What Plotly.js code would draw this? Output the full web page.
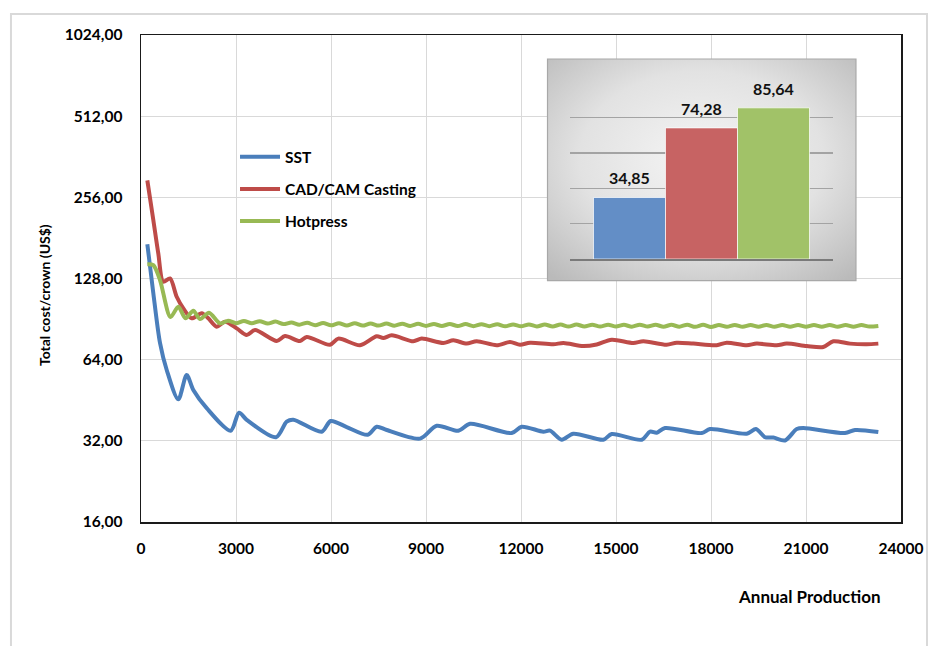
<!DOCTYPE html>
<html>
<head>
<meta charset="utf-8">
<script src="https://cdn.plot.ly/plotly-3.0.1.min.js"></script>
<style>
html,body{margin:0;padding:0;background:#fff;}
#chart{width:930px;height:646px;}
</style>
</head>
<body>
<div id="chart"></div>
<script>
// ---------- DATA ----------
const seriesNames = ['SST', 'CAD/CAM Casting', 'Hotpress'];

const sstX = [200,390,600,812,1178,1443,1652,2075,2833,3095,3338,4263,4601,4810,5707,5991,6496,7159,7443,7759,8811,9338,10020,10390,11706,12022,12705,12916,13285,13652,14600,14865,15812,16074,16286,16548,17707,17969,19128,19422,19706,19968,20337,20707,20915,22232,22548,23284];
const sstY = [171.6,112.7,73.8,58.6,45.6,56.2,49.4,42.3,34.9,40.7,38.3,33.0,37.7,38.3,34.6,37.9,36.0,33.7,36.1,35.1,32.6,36.4,34.9,37.0,34.2,36.1,34.6,34.9,32.3,34.0,32.3,33.9,32.3,34.6,34.3,35.7,34.2,35.4,34.0,35.4,33.0,32.9,32.1,35.4,35.7,34.2,35.1,34.5];

const cadX = [200,390,546,704,916,1127,1336,1601,1917,2125,2391,2653,3022,3338,3600,4285,4548,5021,5233,5969,6231,6916,7443,7652,7917,8599,8865,9547,9864,10285,10601,11232,11653,11969,12285,13022,13338,13969,14391,14865,15547,15863,16600,16917,17442,18179,18496,19128,19444,20075,20390,21022,21547,21864,22390,22917,23284];
const cadY = [296,210.6,158.6,124.4,128.1,109.5,99.2,91.1,95.1,91.1,84.8,88.5,83.6,79.0,82.4,75.1,78.3,75.0,77.7,72.7,76.6,72.4,78.1,77.0,78.8,74.9,76.6,73.8,75.5,73.4,74.9,72.4,74.4,72.7,74.0,73.0,73.8,71.9,72.9,75.9,73.8,74.9,72.7,74.0,73.4,72.4,74.0,72.4,73.4,72.4,73.4,71.9,71.3,74.9,73.4,73.0,73.4];

const hotX = [200,390,600,932,1178,1405,1652,1863,2147,2500,2750,3000,3250,3500,3750,4000,4250,4500,4750,5000,5250,
  5500,5750,6000,6250,6500,6750,7000,7250,7500,7750,8000,8250,8500,8750,9000,9250,9500,9750,10000,10250,10500,10750,
  11000,11250,11500,11750,12000,12250,12500,12750,13000,13250,13500,13750,14000,14250,14500,14750,15000,15250,15500,15750,
  16000,16250,16500,16750,17000,17250,17500,17750,18000,18250,18500,18750,19000,19250,19500,19750,20000,20250,20500,20750,
  21000,21250,21500,21750,22000,22250,22500,22750,23000,23284];
const hotY = [144.7,143.5,126.3,92.1,100.6,91.1,97.2,90.5,95.5,87.2,89.3,87.4,89.1,87.3,88.9,87.1,88.6,86.7,87.9,86.3,87.7,
  85.9,87.5,85.8,87.4,85.7,87.3,85.6,87.2,85.6,87.1,85.5,87.0,85.4,86.9,85.4,86.8,85.3,86.8,85.3,86.7,85.2,86.6,
  85.2,86.6,85.1,86.5,85.1,86.5,85.0,86.4,85.0,86.4,84.9,86.4,85.0,86.3,84.9,86.3,84.9,86.2,84.8,86.3,
  84.9,86.2,84.8,86.2,84.8,86.3,84.7,86.2,84.6,86.0,84.7,86.1,84.7,86.0,84.8,86.1,84.7,86.0,84.8,86.0,
  84.7,86.0,84.8,86.1,84.7,86.0,84.8,86.0,84.9,85.4];

const yTicks = [16, 32, 64, 128, 256, 512, 1024];

const methods = ['SST', 'CAD/CAM Casting', 'Hotpress'];
const avgCost = [34.85, 74.28, 85.64];

// ---------- STYLE ----------
const lineColors = ['#4a7ebb', '#be4b48', '#98b954'];
const barColors = ['#638ec6', '#c76363', '#a1c268'];
const FONT = 'Lato, "Open Sans", "Liberation Sans", sans-serif';

const seriesX = [sstX, cadX, hotX];
const seriesY = [sstY, cadY, hotY];

const traces = seriesNames.map((n, i) => ({
  type: 'scatter', mode: 'lines', name: n,
  x: seriesX[i], y: seriesY[i],
  legendgroup: 'g' + i,
  line: {color: lineColors[i], width: 4, shape: 'spline', smoothing: 0.8}
}));

traces.push({
  type: 'bar', x: methods, y: avgCost, xaxis: 'x2', yaxis: 'y2', showlegend: false,
  marker: {color: barColors, line: {color: 'rgba(255,255,255,0.7)', width: 1}}
});

const fmt = v => v.toFixed(2).replace('.', ',');

const barLabels = methods.map((m, i) => ({
  xref: 'x2', yref: 'y2', x: m, y: avgCost[i], text: fmt(avgCost[i]),
  showarrow: false, yanchor: 'bottom', yshift: 8,
  font: {family: FONT, size: 16, color: '#111', weight: 'bold'}
}));

const gradSvg = "<svg xmlns='http://www.w3.org/2000/svg' width='300' height='220' preserveAspectRatio='none'>" +
  "<defs><radialGradient id='g' cx='50%' cy='45%' r='72%'><stop offset='0' stop-color='#f5f5f5'/>" +
  "<stop offset='0.55' stop-color='#e2e2e2'/><stop offset='1' stop-color='#bababa'/></radialGradient></defs>" +
  "<rect width='300' height='220' fill='url(#g)'/></svg>";
const gradURI = 'data:image/svg+xml;charset=utf-8,' + encodeURIComponent(gradSvg);

const layout = {
  width: 930, height: 646,
  margin: {l: 141, r: 29, t: 35, b: 124, pad: 0},
  paper_bgcolor: '#ffffff', plot_bgcolor: '#ffffff',
  separators: ',.',
  font: {family: FONT, size: 15, color: '#000', weight: 'bold'},
  showlegend: true,
  bargap: 0,
  legend: {
    x: 0.1237, y: 0.784, xanchor: 'left', yanchor: 'top',
    bgcolor: 'rgba(0,0,0,0)', borderwidth: 0,
    itemwidth: 40, tracegroupgap: 9,
    font: {family: FONT, size: 15.5, color: '#000', weight: 'bold'}
  },
  xaxis: {
    domain: [0, 1], range: [0, 24000], tick0: 0, dtick: 3000, tickformat: 'd',
    showgrid: true, gridcolor: '#d9d9d9', gridwidth: 1, zeroline: false,
    showline: true, mirror: true, linecolor: '#1a1a1a', linewidth: 1.5,
    ticks: '', ticklabelstandoff: 12,
    tickfont: {family: FONT, size: 15.5, color: '#000', weight: 'bold'}
  },
  yaxis: {
    type: 'log', range: [Math.log10(16), Math.log10(1024)],
    tickmode: 'array', tickvals: yTicks, tickformat: '.2f',
    showgrid: true, gridcolor: '#d9d9d9', gridwidth: 1, zeroline: false,
    showline: true, mirror: true, linecolor: '#1a1a1a', linewidth: 1.5,
    ticks: '', ticklabelstandoff: 14,
    tickfont: {family: FONT, size: 15.5, color: '#000', weight: 'bold'}
  },
  xaxis2: {
    domain: [0.5645, 0.9105], anchor: 'y2', type: 'category',
    range: [-0.826, 2.826], showticklabels: false, showgrid: false, zeroline: false,
    showline: true, linecolor: '#7a7a7a', linewidth: 1.5, ticks: ''
  },
  yaxis2: {
    domain: [0.54, 0.9025], anchor: 'x2', range: [0, 100], dtick: 20,
    showticklabels: false, showgrid: true, gridcolor: '#a3a3a3', gridwidth: 1.2,
    zeroline: false, showline: false, ticks: ''
  },
  images: [{
    source: gradURI, xref: 'x2 domain', yref: 'y2 domain',
    x: -0.0856, y: 1.1331, sizex: 1.173, sizey: 1.255,
    sizing: 'stretch', xanchor: 'left', yanchor: 'top', layer: 'below'
  }],
  shapes: [
    {type: 'rect', xref: 'x2 domain', yref: 'y2 domain', x0: -0.0856, x1: 1.0874, y0: -0.1219, y1: 1.1331,
     line: {color: '#a8a8a8', width: 1.2}, fillcolor: 'rgba(0,0,0,0)', layer: 'above'},
    {type: 'rect', xref: 'paper', yref: 'paper', x0: -0.1711, x1: 1.0342, y0: -0.263, y1: 1.0431,
     line: {color: '#d9d9d9', width: 2}, fillcolor: 'rgba(0,0,0,0)', layer: 'above'}
  ],
  annotations: barLabels.concat([
    {xref: 'paper', yref: 'paper', x: 0.9763, y: -0.152, xanchor: 'right', yanchor: 'middle',
     text: 'Annual Production', showarrow: false,
     font: {family: FONT, size: 17, color: '#000', weight: 'bold'}},
    {xref: 'paper', yref: 'paper', x: -0.1276, y: 0.466, xanchor: 'center', yanchor: 'middle',
     text: 'Total cost/crown (US$)', textangle: -90, showarrow: false,
     font: {family: FONT, size: 14, color: '#000', weight: 'bold'}}
  ])
};

Plotly.newPlot('chart', traces, layout, {staticPlot: true, displayModeBar: false});
</script>
</body>
</html>
